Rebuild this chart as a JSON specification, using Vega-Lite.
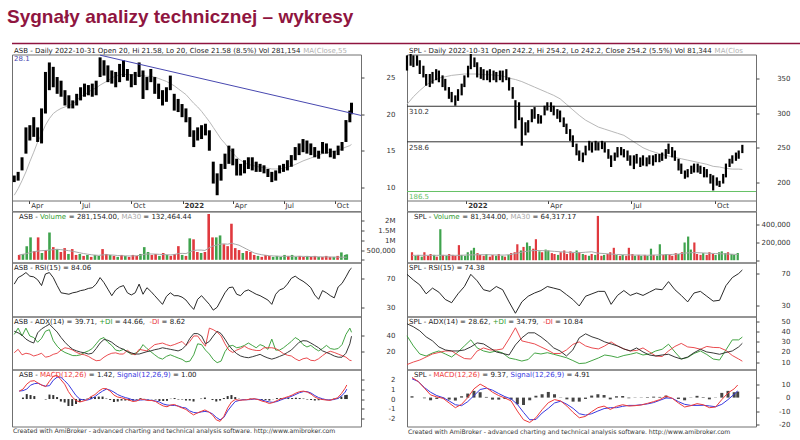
{
  "$schema": "https://vega.github.io/schema/vega-lite/v6.json",
  "padding": {"left": 7, "top": 0, "right": 0, "bottom": 0},
  "background": "white",
  "bounds": "flush",
  "spacing": 10.5,
  "config": {
    "font": "DejaVu Sans",
    "view": {"stroke": "#707070", "strokeWidth": 1},
    "axis": {"labelFont": "DejaVu Sans", "labelFontSize": 7, "labelColor": "#333", "domain": false, "grid": false, "ticks": true, "tickSize": 3, "tickColor": "#444", "title": null, "labelOverlap": false, "labelFlush": false, "tickCount": 30},
    "axisY": {"labelOverlap": false, "tickCount": 30},
    "axisX": {"labelOverlap": false},
    "text": {"font": "DejaVu Sans", "fontSize": 7},
    "title": {"font": "DejaVu Sans"}
  },
  "datasets": {
    "asb": [
      {"d":"2021-03-05","h":11.6,"l":10.7,"ma":8.9,"v":250000,"u":"d","vm":250000,"r":62,"a":46,"p":42,"m":18.7,"c":0.8,"s":0.8,"hi":0},
      {"d":"2021-03-12","h":12.1,"l":10.9,"ma":9.8,"v":300000,"u":"u","vm":280000,"r":71,"a":44,"p":50,"m":23,"c":1.0,"s":0.85,"hi":0.15},
      {"d":"2021-03-19","h":14.1,"l":12.3,"ma":10.9,"v":700000,"u":"u","vm":320000,"r":74,"a":41,"p":40,"m":16,"c":1.5,"s":1.0,"hi":0.5},
      {"d":"2021-03-26","h":18.2,"l":14.6,"ma":12.1,"v":1150000,"u":"u","vm":380000,"r":78,"a":36,"p":50,"m":18,"c":1.8,"s":1.4,"hi":0.4},
      {"d":"2021-04-02","h":18.5,"l":16.4,"ma":13.5,"v":450000,"u":"d","vm":420000,"r":73,"a":33,"p":40,"m":17,"c":1.85,"s":1.55,"hi":0.3},
      {"d":"2021-04-09","h":19.6,"l":16.9,"ma":14.8,"v":1150000,"u":"d","vm":450000,"r":72,"a":31,"p":38,"m":14.5,"c":1.6,"s":1.6,"hi":0},
      {"d":"2021-04-16","h":18.2,"l":16.2,"ma":16.2,"v":350000,"u":"u","vm":470000,"r":68,"a":44,"p":32,"m":16,"c":1.4,"s":1.4,"hi":0},
      {"d":"2021-04-23","h":20.8,"l":16.0,"ma":17.3,"v":500000,"u":"d","vm":480000,"r":60,"a":49,"p":37,"m":18,"c":1.25,"s":1.3,"hi":-0.05},
      {"d":"2021-04-30","h":25.8,"l":20.1,"ma":18.5,"v":1400000,"u":"u","vm":500000,"r":76,"a":52,"p":46,"m":13,"c":1.8,"s":1.35,"hi":0.45},
      {"d":"2021-05-07","h":27.1,"l":23.3,"ma":19.4,"v":650000,"u":"d","vm":520000,"r":78,"a":55,"p":48,"m":14,"c":2.3,"s":1.9,"hi":0.4},
      {"d":"2021-05-14","h":26.5,"l":23.7,"ma":20.1,"v":550000,"u":"u","vm":540000,"r":71,"a":50,"p":34,"m":16.6,"c":2.4,"s":2.2,"hi":0.2},
      {"d":"2021-05-21","h":25.1,"l":22.8,"ma":20.5,"v":400000,"u":"d","vm":520000,"r":60,"a":45,"p":27,"m":18,"c":1.95,"s":2.2,"hi":-0.25},
      {"d":"2021-05-28","h":24.6,"l":22.4,"ma":20.8,"v":600000,"u":"d","vm":500000,"r":50,"a":38,"p":22,"m":22,"c":1.5,"s":1.85,"hi":-0.35},
      {"d":"2021-06-04","h":23.3,"l":21.2,"ma":21.0,"v":300000,"u":"u","vm":470000,"r":49,"a":32,"p":19,"m":25,"c":0.75,"s":1.45,"hi":-0.7},
      {"d":"2021-06-11","h":22.6,"l":20.8,"ma":21.2,"v":550000,"u":"d","vm":440000,"r":48,"a":27,"p":17,"m":24,"c":0.2,"s":0.9,"hi":-0.7},
      {"d":"2021-06-18","h":21.9,"l":20.8,"ma":21.4,"v":250000,"u":"d","vm":400000,"r":50,"a":23,"p":15,"m":22,"c":-0.15,"s":0.35,"hi":-0.5},
      {"d":"2021-06-25","h":22.8,"l":21.2,"ma":21.9,"v":300000,"u":"u","vm":360000,"r":51,"a":21,"p":15,"m":19,"c":-0.3,"s":0.0,"hi":-0.3},
      {"d":"2021-07-02","h":23.7,"l":21.9,"ma":22.4,"v":200000,"u":"d","vm":320000,"r":53,"a":19.5,"p":16,"m":17,"c":-0.2,"s":-0.1,"hi":-0.1},
      {"d":"2021-07-09","h":24.2,"l":22.4,"ma":22.7,"v":250000,"u":"u","vm":290000,"r":54,"a":18.5,"p":19,"m":16,"c":-0.05,"s":-0.1,"hi":0.05},
      {"d":"2021-07-16","h":24.0,"l":22.6,"ma":23.0,"v":150000,"u":"d","vm":260000,"r":56,"a":17,"p":21,"m":14,"c":0.25,"s":0.02,"hi":0.23},
      {"d":"2021-07-23","h":24.2,"l":22.4,"ma":23.4,"v":250000,"u":"u","vm":240000,"r":57,"a":18,"p":24,"m":11,"c":0.45,"s":0.25,"hi":0.2},
      {"d":"2021-07-30","h":24.6,"l":22.6,"ma":23.6,"v":200000,"u":"u","vm":230000,"r":62,"a":24,"p":30,"m":8.5,"c":0.8,"s":0.55,"hi":0.25},
      {"d":"2021-08-06","h":27.8,"l":25.1,"ma":24.0,"v":550000,"u":"d","vm":250000,"r":71,"a":31,"p":36,"m":9,"c":1.05,"s":0.8,"hi":0.25},
      {"d":"2021-08-13","h":27.4,"l":25.3,"ma":24.3,"v":300000,"u":"d","vm":260000,"r":64,"a":35.5,"p":38,"m":13,"c":1.05,"s":1.0,"hi":0.05},
      {"d":"2021-08-20","h":26.7,"l":24.4,"ma":24.6,"v":250000,"u":"u","vm":250000,"r":55,"a":34.5,"p":32,"m":16,"c":0.8,"s":0.9,"hi":-0.1},
      {"d":"2021-08-27","h":26.0,"l":24.2,"ma":25.0,"v":200000,"u":"d","vm":240000,"r":46,"a":32,"p":28,"m":18,"c":0.4,"s":0.7,"hi":-0.3},
      {"d":"2021-09-03","h":25.8,"l":23.7,"ma":25.2,"v":150000,"u":"u","vm":220000,"r":54,"a":28,"p":22,"m":18.5,"c":0.2,"s":0.45,"hi":-0.25},
      {"d":"2021-09-10","h":26.9,"l":24.4,"ma":25.4,"v":250000,"u":"d","vm":210000,"r":58,"a":25,"p":21,"m":17,"c":0.13,"s":0.28,"hi":-0.15},
      {"d":"2021-09-17","h":27.4,"l":25.1,"ma":25.45,"v":200000,"u":"u","vm":200000,"r":60,"a":23,"p":23,"m":17,"c":0.0,"s":0.15,"hi":-0.15},
      {"d":"2021-09-24","h":26.2,"l":24.6,"ma":25.45,"v":150000,"u":"d","vm":200000,"r":50,"a":20,"p":20,"m":22,"c":-0.1,"s":0.05,"hi":-0.15},
      {"d":"2021-10-01","h":25.5,"l":23.7,"ma":25.4,"v":250000,"u":"d","vm":200000,"r":47,"a":18.5,"p":16.6,"m":17.5,"c":-0.25,"s":-0.1,"hi":-0.15},
      {"d":"2021-10-08","h":25.8,"l":24.0,"ma":25.4,"v":200000,"u":"d","vm":210000,"r":50,"a":17,"p":18,"m":16,"c":-0.2,"s":-0.13,"hi":-0.07},
      {"d":"2021-10-15","h":27.1,"l":25.1,"ma":25.3,"v":300000,"u":"u","vm":230000,"r":62,"a":17,"p":21,"m":23,"c":0.0,"s":-0.1,"hi":0.1},
      {"d":"2021-10-22","h":26.0,"l":22.1,"ma":25.3,"v":650000,"u":"u","vm":280000,"r":48,"a":18.5,"p":29,"m":22,"c":-0.05,"s":-0.07,"hi":0.02},
      {"d":"2021-10-29","h":25.1,"l":23.3,"ma":25.2,"v":400000,"u":"u","vm":300000,"r":57,"a":20,"p":24,"m":21,"c":-0.15,"s":-0.1,"hi":-0.05},
      {"d":"2021-11-05","h":26.2,"l":24.4,"ma":25.2,"v":250000,"u":"d","vm":300000,"r":52,"a":21,"p":20,"m":25,"c":-0.15,"s":-0.13,"hi":-0.02},
      {"d":"2021-11-12","h":25.1,"l":22.8,"ma":25.1,"v":300000,"u":"d","vm":290000,"r":46,"a":22.5,"p":16,"m":29,"c":-0.25,"s":-0.2,"hi":-0.05},
      {"d":"2021-11-19","h":24.2,"l":22.1,"ma":24.9,"v":200000,"u":"u","vm":280000,"r":40,"a":23.5,"p":12.3,"m":30,"c":-0.5,"s":-0.3,"hi":-0.2},
      {"d":"2021-11-26","h":23.3,"l":21.2,"ma":24.7,"v":350000,"u":"d","vm":270000,"r":34,"a":25,"p":10.5,"m":31,"c":-0.7,"s":-0.5,"hi":-0.2},
      {"d":"2021-12-03","h":23.7,"l":21.7,"ma":24.5,"v":250000,"u":"u","vm":260000,"r":45,"a":24,"p":14,"m":29,"c":-0.78,"s":-0.6,"hi":-0.18},
      {"d":"2021-12-10","h":25.3,"l":23.3,"ma":24.2,"v":200000,"u":"d","vm":250000,"r":50,"a":23,"p":16,"m":27.5,"c":-0.6,"s":-0.63,"hi":0.03},
      {"d":"2021-12-17","h":22.8,"l":20.5,"ma":23.9,"v":300000,"u":"d","vm":270000,"r":46,"a":22,"p":14,"m":29,"c":-0.55,"s":-0.65,"hi":0.1},
      {"d":"2021-12-24","h":22.1,"l":20.3,"ma":23.5,"v":700000,"u":"d","vm":320000,"r":46,"a":21,"p":12,"m":31,"c":-0.75,"s":-0.7,"hi":-0.05},
      {"d":"2021-12-31","h":21.4,"l":19.6,"ma":23.1,"v":250000,"u":"u","vm":330000,"r":44,"a":23,"p":10.2,"m":33,"c":-0.9,"s":-0.85,"hi":-0.05},
      {"d":"2022-01-07","h":20.8,"l":18.9,"ma":22.7,"v":200000,"u":"d","vm":320000,"r":40,"a":28,"p":7,"m":28,"c":-1.05,"s":-0.9,"hi":-0.15},
      {"d":"2022-01-14","h":19.6,"l":16.9,"ma":22.1,"v":1100000,"u":"u","vm":400000,"r":33,"a":37,"p":8,"m":33,"c":-1.35,"s":-1.2,"hi":-0.15},
      {"d":"2022-01-21","h":17.8,"l":15.5,"ma":21.5,"v":1050000,"u":"d","vm":480000,"r":27,"a":43,"p":16,"m":40,"c":-1.6,"s":-1.35,"hi":-0.25},
      {"d":"2022-01-28","h":18.2,"l":16.4,"ma":21.0,"v":400000,"u":"d","vm":500000,"r":41,"a":43,"p":30,"m":40,"c":-1.4,"s":-1.4,"hi":0},
      {"d":"2022-02-04","h":18.5,"l":16.6,"ma":20.4,"v":350000,"u":"u","vm":500000,"r":46,"a":40,"p":29,"m":33,"c":-1.25,"s":-1.3,"hi":0.05},
      {"d":"2022-02-11","h":18.7,"l":17.1,"ma":19.7,"v":400000,"u":"d","vm":480000,"r":40,"a":30,"p":22,"m":27,"c":-1.1,"s":-1.25,"hi":0.15},
      {"d":"2022-02-18","h":17.8,"l":15.0,"ma":19.0,"v":2350000,"u":"d","vm":600000,"r":34,"a":33,"p":17,"m":50,"c":-1.3,"s":-1.3,"hi":0},
      {"d":"2022-02-25","h":13.5,"l":10.5,"ma":18.2,"v":1150000,"u":"d","vm":700000,"r":26,"a":40,"p":10,"m":48,"c":-1.6,"s":-1.5,"hi":-0.1},
      {"d":"2022-03-04","h":11.9,"l":8.9,"ma":17.4,"v":1150000,"u":"u","vm":750000,"r":30,"a":46,"p":6,"m":45,"c":-2.1,"s":-1.85,"hi":-0.25},
      {"d":"2022-03-11","h":13.2,"l":10.9,"ma":16.6,"v":1250000,"u":"u","vm":800000,"r":40,"a":43,"p":8,"m":40,"c":-2.25,"s":-2.1,"hi":-0.15},
      {"d":"2022-03-18","h":14.6,"l":12.5,"ma":16.0,"v":800000,"u":"d","vm":820000,"r":50,"a":36,"p":20,"m":30,"c":-1.75,"s":-1.85,"hi":0.1},
      {"d":"2022-03-25","h":15.7,"l":13.2,"ma":15.3,"v":700000,"u":"d","vm":800000,"r":57,"a":28,"p":27,"m":22,"c":-0.9,"s":-1.2,"hi":0.3},
      {"d":"2022-04-01","h":15.3,"l":13.0,"ma":14.7,"v":1850000,"u":"d","vm":850000,"r":58,"a":22,"p":28,"m":19,"c":-0.3,"s":-0.7,"hi":0.4},
      {"d":"2022-04-08","h":13.9,"l":11.6,"ma":14.1,"v":600000,"u":"d","vm":800000,"r":48,"a":17.5,"p":25,"m":22,"c":-0.05,"s":-0.25,"hi":0.2},
      {"d":"2022-04-15","h":13.2,"l":11.6,"ma":13.7,"v":500000,"u":"d","vm":750000,"r":46,"a":14.5,"p":26,"m":24,"c":-0.12,"s":-0.15,"hi":0.03},
      {"d":"2022-04-22","h":13.7,"l":11.9,"ma":13.35,"v":350000,"u":"u","vm":650000,"r":52,"a":13,"p":28,"m":27,"c":-0.1,"s":-0.07,"hi":-0.03},
      {"d":"2022-04-29","h":14.1,"l":12.5,"ma":13.1,"v":450000,"u":"d","vm":550000,"r":54,"a":12.3,"p":31,"m":24,"c":-0.07,"s":-0.07,"hi":0},
      {"d":"2022-05-06","h":14.1,"l":12.3,"ma":13.0,"v":400000,"u":"d","vm":450000,"r":51,"a":13.5,"p":28,"m":22.5,"c":0.0,"s":-0.05,"hi":0.05},
      {"d":"2022-05-13","h":13.5,"l":12.1,"ma":12.85,"v":250000,"u":"d","vm":350000,"r":48,"a":15,"p":25,"m":21.5,"c":0.03,"s":0.0,"hi":0.03},
      {"d":"2022-05-20","h":13.2,"l":12.1,"ma":12.75,"v":200000,"u":"u","vm":300000,"r":46,"a":16.6,"p":29,"m":21.5,"c":-0.05,"s":-0.03,"hi":-0.02},
      {"d":"2022-05-27","h":13.0,"l":11.9,"ma":12.7,"v":150000,"u":"d","vm":260000,"r":43,"a":14,"p":27,"m":25,"c":-0.2,"s":-0.1,"hi":-0.1},
      {"d":"2022-06-03","h":12.5,"l":11.4,"ma":12.6,"v":250000,"u":"d","vm":230000,"r":40,"a":12,"p":23,"m":25,"c":-0.3,"s":-0.2,"hi":-0.1},
      {"d":"2022-06-10","h":12.1,"l":10.7,"ma":12.5,"v":200000,"u":"d","vm":210000,"r":34,"a":10.5,"p":36,"m":25,"c":-0.45,"s":-0.3,"hi":-0.15},
      {"d":"2022-06-17","h":12.3,"l":10.9,"ma":12.5,"v":150000,"u":"u","vm":200000,"r":48,"a":12,"p":22,"m":24,"c":-0.35,"s":-0.33,"hi":-0.02},
      {"d":"2022-06-24","h":13.0,"l":11.9,"ma":12.5,"v":200000,"u":"u","vm":190000,"r":54,"a":14,"p":22,"m":21,"c":-0.15,"s":-0.25,"hi":0.1},
      {"d":"2022-07-01","h":13.2,"l":12.1,"ma":12.6,"v":150000,"u":"u","vm":180000,"r":56,"a":16,"p":25,"m":17.5,"c":0.0,"s":-0.1,"hi":0.1},
      {"d":"2022-07-08","h":13.7,"l":12.3,"ma":12.75,"v":250000,"u":"u","vm":180000,"r":62,"a":19,"p":29,"m":15.5,"c":0.13,"s":0.05,"hi":0.08},
      {"d":"2022-07-15","h":14.4,"l":12.8,"ma":12.9,"v":200000,"u":"d","vm":180000,"r":70,"a":22,"p":33,"m":14.5,"c":0.25,"s":0.15,"hi":0.1},
      {"d":"2022-07-22","h":15.5,"l":13.7,"ma":13.1,"v":250000,"u":"u","vm":180000,"r":73,"a":27,"p":38,"m":11,"c":0.4,"s":0.3,"hi":0.1},
      {"d":"2022-07-29","h":16.0,"l":14.4,"ma":13.35,"v":150000,"u":"u","vm":180000,"r":69,"a":32,"p":35,"m":8.5,"c":0.6,"s":0.47,"hi":0.13},
      {"d":"2022-08-05","h":16.6,"l":14.8,"ma":13.6,"v":200000,"u":"d","vm":180000,"r":66,"a":34,"p":29,"m":11,"c":0.75,"s":0.65,"hi":0.1},
      {"d":"2022-08-12","h":16.4,"l":14.6,"ma":13.8,"v":150000,"u":"d","vm":175000,"r":62,"a":33.6,"p":26,"m":12,"c":0.8,"s":0.75,"hi":0.05},
      {"d":"2022-08-19","h":16.0,"l":14.4,"ma":14.0,"v":200000,"u":"u","vm":170000,"r":57,"a":31,"p":28,"m":9,"c":0.7,"s":0.75,"hi":-0.05},
      {"d":"2022-08-26","h":15.5,"l":14.1,"ma":14.2,"v":150000,"u":"d","vm":165000,"r":47,"a":28,"p":24,"m":8.5,"c":0.5,"s":0.6,"hi":-0.1},
      {"d":"2022-09-02","h":15.0,"l":13.9,"ma":14.4,"v":200000,"u":"d","vm":160000,"r":41,"a":25,"p":21,"m":11,"c":0.2,"s":0.35,"hi":-0.15},
      {"d":"2022-09-09","h":16.2,"l":14.6,"ma":14.6,"v":150000,"u":"u","vm":155000,"r":53,"a":21,"p":24,"m":15,"c":0.03,"s":0.15,"hi":-0.12},
      {"d":"2022-09-16","h":16.0,"l":14.6,"ma":14.7,"v":150000,"u":"d","vm":150000,"r":50,"a":19,"p":28,"m":18.5,"c":-0.05,"s":0.03,"hi":-0.08},
      {"d":"2022-09-23","h":15.3,"l":14.1,"ma":14.8,"v":200000,"u":"d","vm":150000,"r":46,"a":17,"p":24,"m":20.5,"c":-0.1,"s":-0.07,"hi":-0.03},
      {"d":"2022-09-30","h":15.0,"l":13.9,"ma":14.9,"v":150000,"u":"d","vm":145000,"r":43,"a":14.5,"p":23,"m":19,"c":-0.13,"s":-0.1,"hi":-0.03},
      {"d":"2022-10-07","h":15.7,"l":14.4,"ma":15.0,"v":150000,"u":"u","vm":140000,"r":58,"a":13,"p":24,"m":17,"c":0.0,"s":-0.05,"hi":0.05},
      {"d":"2022-10-14","h":16.2,"l":15.0,"ma":15.3,"v":200000,"u":"d","vm":135000,"r":63,"a":13,"p":29,"m":15,"c":0.13,"s":0.05,"hi":0.08},
      {"d":"2022-10-21","h":19.2,"l":16.2,"ma":15.5,"v":380000,"u":"u","vm":132000,"r":72,"a":18,"p":42,"m":13,"c":0.55,"s":0.3,"hi":0.25},
      {"d":"2022-10-28","h":20.5,"l":18.9,"ma":15.7,"v":250000,"u":"u","vm":132000,"r":82,"a":30,"p":50,"m":9,"c":1.1,"s":0.7,"hi":0.4},
      {"d":"2022-10-31","h":21.58,"l":20.0,"ma":15.87,"v":281154,"u":"u","vm":132464,"r":84.06,"a":39.71,"p":44.66,"m":8.62,"c":1.42,"s":1.0,"hi":0.42}
    ],
    "trendL": [
      {"d":"2021-08-06","t":28.1},
      {"d":"2022-11-17","t":19.84}
    ],
    "splp": [
      {"d":"2021-10-28","h":384,"l":362,"v":90000,"u":"d"},
      {"d":"2021-11-01","h":386,"l":369,"v":50000,"u":"u"},
      {"d":"2021-11-04","h":384,"l":367,"v":60000,"u":"d"},
      {"d":"2021-11-08","h":384,"l":369,"v":40000,"u":"u"},
      {"d":"2021-11-11","h":377,"l":357,"v":90000,"u":"d"},
      {"d":"2021-11-15","h":369,"l":352,"v":50000,"u":"d"},
      {"d":"2021-11-18","h":357,"l":340,"v":70000,"u":"d"},
      {"d":"2021-11-22","h":357,"l":338,"v":60000,"u":"u"},
      {"d":"2021-11-25","h":360,"l":343,"v":40000,"u":"d"},
      {"d":"2021-11-29","h":364,"l":348,"v":350000,"u":"u"},
      {"d":"2021-12-02","h":362,"l":345,"v":60000,"u":"d"},
      {"d":"2021-12-06","h":355,"l":338,"v":50000,"u":"u"},
      {"d":"2021-12-09","h":350,"l":333,"v":70000,"u":"d"},
      {"d":"2021-12-13","h":338,"l":321,"v":60000,"u":"d"},
      {"d":"2021-12-16","h":331,"l":316,"v":50000,"u":"d"},
      {"d":"2021-12-20","h":326,"l":311,"v":170000,"u":"d"},
      {"d":"2021-12-23","h":335,"l":318,"v":60000,"u":"u"},
      {"d":"2021-12-27","h":343,"l":326,"v":50000,"u":"u"},
      {"d":"2021-12-30","h":355,"l":338,"v":90000,"u":"u"},
      {"d":"2022-01-03","h":369,"l":352,"v":110000,"u":"u"},
      {"d":"2022-01-06","h":386,"l":364,"v":140000,"u":"u"},
      {"d":"2022-01-10","h":381,"l":367,"v":80000,"u":"d"},
      {"d":"2022-01-13","h":374,"l":352,"v":60000,"u":"d"},
      {"d":"2022-01-17","h":367,"l":350,"v":50000,"u":"d"},
      {"d":"2022-01-20","h":364,"l":348,"v":70000,"u":"u"},
      {"d":"2022-01-24","h":362,"l":348,"v":40000,"u":"d"},
      {"d":"2022-01-27","h":364,"l":345,"v":60000,"u":"d"},
      {"d":"2022-01-31","h":362,"l":348,"v":50000,"u":"u"},
      {"d":"2022-02-03","h":360,"l":345,"v":70000,"u":"d"},
      {"d":"2022-02-07","h":362,"l":348,"v":50000,"u":"u"},
      {"d":"2022-02-10","h":362,"l":345,"v":40000,"u":"d"},
      {"d":"2022-02-14","h":364,"l":348,"v":60000,"u":"u"},
      {"d":"2022-02-17","h":352,"l":333,"v":80000,"u":"d"},
      {"d":"2022-02-21","h":338,"l":321,"v":90000,"u":"d"},
      {"d":"2022-02-24","h":319,"l":278,"v":180000,"u":"d"},
      {"d":"2022-02-28","h":316,"l":290,"v":110000,"u":"u"},
      {"d":"2022-03-03","h":294,"l":253,"v":150000,"u":"d"},
      {"d":"2022-03-07","h":287,"l":268,"v":200000,"u":"u"},
      {"d":"2022-03-10","h":290,"l":272,"v":160000,"u":"u"},
      {"d":"2022-03-14","h":306,"l":287,"v":130000,"u":"d"},
      {"d":"2022-03-17","h":309,"l":292,"v":237000,"u":"d"},
      {"d":"2022-03-21","h":299,"l":285,"v":100000,"u":"u"},
      {"d":"2022-03-24","h":297,"l":285,"v":90000,"u":"d"},
      {"d":"2022-03-28","h":311,"l":297,"v":120000,"u":"u"},
      {"d":"2022-03-31","h":316,"l":304,"v":110000,"u":"u"},
      {"d":"2022-04-04","h":316,"l":302,"v":80000,"u":"d"},
      {"d":"2022-04-07","h":311,"l":297,"v":70000,"u":"d"},
      {"d":"2022-04-11","h":306,"l":292,"v":60000,"u":"u"},
      {"d":"2022-04-14","h":304,"l":287,"v":90000,"u":"d"},
      {"d":"2022-04-18","h":294,"l":280,"v":110000,"u":"d"},
      {"d":"2022-04-21","h":285,"l":270,"v":70000,"u":"d"},
      {"d":"2022-04-25","h":277,"l":260,"v":100000,"u":"d"},
      {"d":"2022-04-28","h":268,"l":251,"v":80000,"u":"d"},
      {"d":"2022-05-02","h":256,"l":239,"v":110000,"u":"u"},
      {"d":"2022-05-05","h":246,"l":231,"v":90000,"u":"d"},
      {"d":"2022-05-09","h":243,"l":229,"v":70000,"u":"u"},
      {"d":"2022-05-12","h":253,"l":239,"v":60000,"u":"d"},
      {"d":"2022-05-16","h":260,"l":246,"v":50000,"u":"u"},
      {"d":"2022-05-19","h":258,"l":243,"v":70000,"u":"d"},
      {"d":"2022-05-23","h":260,"l":246,"v":60000,"u":"u"},
      {"d":"2022-05-26","h":258,"l":246,"v":500000,"u":"d"},
      {"d":"2022-05-30","h":260,"l":248,"v":50000,"u":"d"},
      {"d":"2022-06-02","h":258,"l":243,"v":60000,"u":"u"},
      {"d":"2022-06-06","h":248,"l":234,"v":70000,"u":"d"},
      {"d":"2022-06-09","h":239,"l":222,"v":90000,"u":"d"},
      {"d":"2022-06-13","h":243,"l":231,"v":140000,"u":"d"},
      {"d":"2022-06-16","h":251,"l":236,"v":60000,"u":"u"},
      {"d":"2022-06-20","h":251,"l":239,"v":50000,"u":"d"},
      {"d":"2022-06-23","h":248,"l":236,"v":60000,"u":"u"},
      {"d":"2022-06-27","h":246,"l":231,"v":50000,"u":"d"},
      {"d":"2022-06-30","h":239,"l":224,"v":140000,"u":"d"},
      {"d":"2022-07-04","h":239,"l":219,"v":70000,"u":"d"},
      {"d":"2022-07-07","h":241,"l":227,"v":50000,"u":"u"},
      {"d":"2022-07-11","h":236,"l":222,"v":60000,"u":"d"},
      {"d":"2022-07-14","h":239,"l":224,"v":50000,"u":"u"},
      {"d":"2022-07-18","h":236,"l":223,"v":60000,"u":"d"},
      {"d":"2022-07-21","h":239,"l":226,"v":50000,"u":"u"},
      {"d":"2022-07-25","h":239,"l":224,"v":130000,"u":"u"},
      {"d":"2022-07-28","h":241,"l":229,"v":60000,"u":"d"},
      {"d":"2022-08-01","h":241,"l":229,"v":50000,"u":"u"},
      {"d":"2022-08-04","h":243,"l":231,"v":180000,"u":"u"},
      {"d":"2022-08-08","h":248,"l":234,"v":60000,"u":"d"},
      {"d":"2022-08-11","h":256,"l":241,"v":70000,"u":"u"},
      {"d":"2022-08-15","h":251,"l":236,"v":60000,"u":"d"},
      {"d":"2022-08-18","h":246,"l":231,"v":50000,"u":"d"},
      {"d":"2022-08-22","h":234,"l":217,"v":80000,"u":"d"},
      {"d":"2022-08-25","h":227,"l":212,"v":70000,"u":"u"},
      {"d":"2022-08-29","h":217,"l":205,"v":90000,"u":"d"},
      {"d":"2022-09-01","h":219,"l":207,"v":200000,"u":"u"},
      {"d":"2022-09-05","h":224,"l":212,"v":267000,"u":"u"},
      {"d":"2022-09-08","h":227,"l":214,"v":120000,"u":"u"},
      {"d":"2022-09-12","h":227,"l":214,"v":200000,"u":"d"},
      {"d":"2022-09-15","h":224,"l":212,"v":70000,"u":"d"},
      {"d":"2022-09-19","h":222,"l":207,"v":60000,"u":"d"},
      {"d":"2022-09-22","h":219,"l":207,"v":80000,"u":"u"},
      {"d":"2022-09-26","h":212,"l":198,"v":60000,"u":"d"},
      {"d":"2022-09-29","h":210,"l":188,"v":90000,"u":"d"},
      {"d":"2022-10-03","h":207,"l":195,"v":70000,"u":"d"},
      {"d":"2022-10-06","h":202,"l":193,"v":60000,"u":"u"},
      {"d":"2022-10-10","h":212,"l":198,"v":90000,"u":"u"},
      {"d":"2022-10-13","h":227,"l":207,"v":100000,"u":"u"},
      {"d":"2022-10-17","h":234,"l":222,"v":80000,"u":"u"},
      {"d":"2022-10-20","h":239,"l":227,"v":90000,"u":"d"},
      {"d":"2022-10-24","h":243,"l":231,"v":70000,"u":"u"},
      {"d":"2022-10-27","h":246,"l":234,"v":60000,"u":"u"},
      {"d":"2022-10-31","h":254.2,"l":242.2,"v":81344,"u":"u"}
    ],
    "spli": [
      {"d":"2021-10-28","ma":313,"vm":55000,"r":69,"a":48,"p":36,"m":7.5,"c":15,"s":14,"hi":1},
      {"d":"2021-11-04","ma":324,"vm":55000,"r":62,"a":45,"p":26,"m":10,"c":12,"s":12,"hi":0},
      {"d":"2021-11-11","ma":333,"vm":55000,"r":56,"a":41,"p":18,"m":12,"c":7,"s":7.5,"hi":-0.5},
      {"d":"2021-11-18","ma":341,"vm":55000,"r":45,"a":35,"p":16,"m":15,"c":2,"s":4,"hi":-2},
      {"d":"2021-11-25","ma":347,"vm":55000,"r":52,"a":31,"p":19,"m":18,"c":0.5,"s":1.5,"hi":-1},
      {"d":"2021-12-02","ma":351,"vm":55000,"r":47,"a":25,"p":21,"m":19.5,"c":-0.5,"s":0,"hi":-0.5},
      {"d":"2021-12-09","ma":353,"vm":55000,"r":38,"a":22,"p":18,"m":21,"c":-4,"s":-2.5,"hi":-1.5},
      {"d":"2021-12-16","ma":355,"vm":55000,"r":34,"a":21,"p":15,"m":21,"c":-7.5,"s":-5.3,"hi":-2.2},
      {"d":"2021-12-23","ma":356,"vm":55000,"r":45,"a":21,"p":20,"m":17,"c":-5,"s":-6,"hi":1},
      {"d":"2021-12-30","ma":357,"vm":60000,"r":54,"a":22,"p":26,"m":13.5,"c":0,"s":-3,"hi":3},
      {"d":"2022-01-06","ma":357,"vm":60000,"r":69,"a":25,"p":32,"m":13,"c":6.5,"s":1.5,"hi":5},
      {"d":"2022-01-13","ma":357,"vm":62000,"r":61,"a":29,"p":24,"m":21,"c":10,"s":6,"hi":4},
      {"d":"2022-01-20","ma":356,"vm":62000,"r":50,"a":28,"p":21,"m":24,"c":7.5,"s":7,"hi":0.5},
      {"d":"2022-01-27","ma":356,"vm":60000,"r":48,"a":24,"p":19.5,"m":22,"c":4,"s":5.5,"hi":-1.5},
      {"d":"2022-02-03","ma":355,"vm":58000,"r":54,"a":20,"p":21,"m":22,"c":1.5,"s":3,"hi":-1.5},
      {"d":"2022-02-10","ma":354,"vm":58000,"r":50,"a":18.5,"p":19,"m":23,"c":-0.3,"s":0.7,"hi":-1},
      {"d":"2022-02-17","ma":351,"vm":65000,"r":35,"a":17,"p":14,"m":33,"c":-2.5,"s":-1,"hi":-1.5},
      {"d":"2022-02-24","ma":349,"vm":80000,"r":21,"a":27,"p":12.7,"m":44,"c":-10,"s":-5,"hi":-5},
      {"d":"2022-03-03","ma":346,"vm":95000,"r":35,"a":34,"p":11,"m":31,"c":-16.5,"s":-11,"hi":-5.5},
      {"d":"2022-03-10","ma":342,"vm":105000,"r":42,"a":39,"p":12.5,"m":29.5,"c":-18.5,"s":-16.5,"hi":-2},
      {"d":"2022-03-17","ma":338,"vm":110000,"r":46,"a":39,"p":19,"m":28,"c":-15,"s":-16.3,"hi":1.3},
      {"d":"2022-03-24","ma":334,"vm":108000,"r":49,"a":35,"p":18,"m":25,"c":-9,"s":-11.5,"hi":2.5},
      {"d":"2022-03-31","ma":330,"vm":105000,"r":54,"a":30,"p":19.3,"m":22,"c":-3.8,"s":-8,"hi":4.2},
      {"d":"2022-04-07","ma":326,"vm":100000,"r":52,"a":24,"p":17.7,"m":18.5,"c":-1.5,"s":-4,"hi":2.5},
      {"d":"2022-04-14","ma":321,"vm":95000,"r":50,"a":21,"p":16,"m":18.5,"c":-2.5,"s":-2.7,"hi":0.2},
      {"d":"2022-04-21","ma":313,"vm":90000,"r":44,"a":16,"p":14.3,"m":22,"c":-6.3,"s":-5,"hi":-1.3},
      {"d":"2022-04-28","ma":305,"vm":88000,"r":38,"a":22,"p":11.5,"m":27.5,"c":-11,"s":-8,"hi":-3},
      {"d":"2022-05-05","ma":297,"vm":85000,"r":30,"a":34,"p":8.5,"m":30,"c":-15,"s":-12,"hi":-3},
      {"d":"2022-05-12","ma":290,"vm":90000,"r":42,"a":38,"p":9,"m":26,"c":-14,"s":-13,"hi":-1},
      {"d":"2022-05-19","ma":285,"vm":95000,"r":45,"a":35,"p":11.5,"m":24,"c":-10.5,"s":-12,"hi":1.5},
      {"d":"2022-05-26","ma":280,"vm":80000,"r":48,"a":33,"p":14,"m":23,"c":-7.5,"s":-10,"hi":2.5},
      {"d":"2022-06-02","ma":277,"vm":75000,"r":48,"a":30,"p":17,"m":26,"c":-6.3,"s":-8.2,"hi":1.9},
      {"d":"2022-06-09","ma":274,"vm":70000,"r":32,"a":28,"p":16,"m":30,"c":-8.8,"s":-7.5,"hi":-1.3},
      {"d":"2022-06-16","ma":271,"vm":65000,"r":43,"a":26,"p":14.5,"m":26,"c":-6.5,"s":-7.5,"hi":1},
      {"d":"2022-06-23","ma":268,"vm":62000,"r":49,"a":23,"p":16.5,"m":23,"c":-5.3,"s":-6.5,"hi":1.2},
      {"d":"2022-06-30","ma":262,"vm":60000,"r":43,"a":21,"p":17.7,"m":21,"c":-6.3,"s":-5.8,"hi":-0.5},
      {"d":"2022-07-07","ma":256,"vm":58000,"r":46,"a":24,"p":19.3,"m":21.5,"c":-6,"s":-5.8,"hi":-0.2},
      {"d":"2022-07-14","ma":250,"vm":58000,"r":43,"a":20,"p":17,"m":24,"c":-5.5,"s":-5.3,"hi":-0.2},
      {"d":"2022-07-21","ma":246,"vm":56000,"r":47,"a":17,"p":18,"m":20,"c":-4.3,"s":-4.7,"hi":0.4},
      {"d":"2022-07-28","ma":243,"vm":58000,"r":51,"a":16,"p":21,"m":16,"c":-3,"s":-3.7,"hi":0.7},
      {"d":"2022-08-04","ma":240,"vm":60000,"r":50,"a":17,"p":22.7,"m":15.5,"c":-1.5,"s":-2,"hi":0.5},
      {"d":"2022-08-11","ma":238,"vm":62000,"r":60,"a":17.7,"p":27.7,"m":21,"c":1.2,"s":-0.3,"hi":1.5},
      {"d":"2022-08-18","ma":236,"vm":65000,"r":50,"a":15,"p":20,"m":25.5,"c":-0.5,"s":-0.5,"hi":0},
      {"d":"2022-08-25","ma":234,"vm":70000,"r":43,"a":13,"p":13,"m":28.5,"c":-4,"s":-3,"hi":-1},
      {"d":"2022-09-01","ma":232,"vm":80000,"r":35,"a":15,"p":14.5,"m":25,"c":-7,"s":-5,"hi":-2},
      {"d":"2022-09-08","ma":230,"vm":85000,"r":46,"a":19.3,"p":18.5,"m":24.3,"c":-6,"s":-5.8,"hi":-0.2},
      {"d":"2022-09-15","ma":228,"vm":85000,"r":48,"a":22.7,"p":21,"m":22.7,"c":-4.5,"s":-5.8,"hi":1.3},
      {"d":"2022-09-22","ma":226,"vm":82000,"r":42,"a":20,"p":17.5,"m":25.5,"c":-5.3,"s":-5.7,"hi":0.4},
      {"d":"2022-09-29","ma":223,"vm":78000,"r":36,"a":19,"p":13,"m":24.5,"c":-7.5,"s":-6.2,"hi":-1.3},
      {"d":"2022-10-06","ma":222,"vm":75000,"r":37,"a":17.7,"p":12,"m":24.3,"c":-7,"s":-6.8,"hi":-0.2},
      {"d":"2022-10-13","ma":220,"vm":72000,"r":55,"a":19.5,"p":22,"m":21.5,"c":-1.5,"s":-5,"hi":3.5},
      {"d":"2022-10-20","ma":219,"vm":70000,"r":65,"a":21,"p":32,"m":16.5,"c":3.5,"s":-1.5,"hi":5},
      {"d":"2022-10-27","ma":219,"vm":66000,"r":70,"a":25,"p":32,"m":13,"c":6.5,"s":2.5,"hi":4},
      {"d":"2022-10-31","ma":218.5,"vm":64317,"r":74.38,"a":28.62,"p":34.79,"m":10.84,"c":9.37,"s":4.91,"hi":4.46}
    ],
    "levels": [
      {"v":310.2,"k":"r"},
      {"v":258.6,"k":"r"},
      {"v":186.5,"k":"s"}
    ]
  },
  "vconcat": [
    {
      "width": 788, "height": 43.5,
      "view": {"stroke": null},
      "data": {"values": [{}]},
      "layer": [
        {"mark": {"type": "rule", "color": "#8f1540", "strokeWidth": 1.5},
         "encoding": {"y": {"datum": 0, "type": "quantitative", "scale": {"domain": [0, 43.5], "nice": false, "zero": false}, "axis": null}}},
        {"mark": {"type": "text", "text": "Sygnały analizy technicznej – wykresy", "align": "left", "baseline": "alphabetic", "dx": -5, "font": "Liberation Sans", "fontSize": 19, "fontWeight": "bold", "color": "#8f1540"},
         "encoding": {"x": {"datum": 0, "type": "quantitative", "scale": {"domain": [0, 788], "nice": false, "zero": false}, "axis": null},
                      "y": {"datum": 20.8, "type": "quantitative"}}}
      ]
    },
    {
      "columns": 2,
      "spacing": {"row": 0, "column": 46},
      "bounds": "flush",
      "resolve": {"scale": {"color": "independent"}},
      "concat": [
        {
          "width": 349, "height": 156.7,
          "layer": [
            {"data": {"name": "asb"}, "mark": {"type": "line", "color": "#b8b8b8", "strokeWidth": 1},
             "encoding": {
               "x": {"field": "d", "type": "temporal", "scale": {"type": "utc", "domain": [{"year":2021,"month":3,"date":1,"utc":true},{"year":2022,"month":11,"date":17,"utc":true}]},
                     "axis": {"orient": "bottom", "offset": -10.7, "domain": true, "domainColor": "#707070", "domainWidth": 1, "labelOverlap": false, "tickCount": 30,
                              "values": [{"year":2021,"month":4,"date":1,"utc":true},{"year":2021,"month":7,"date":1,"utc":true},{"year":2021,"month":10,"date":1,"utc":true},{"year":2022,"month":1,"date":1,"utc":true},{"year":2022,"month":4,"date":1,"utc":true},{"year":2022,"month":7,"date":1,"utc":true},{"year":2022,"month":10,"date":1,"utc":true}],
                              "labelExpr": "utcmonth(datum.value) == 0 ? utcFormat(datum.value, '%Y') : utcFormat(datum.value, '%b')",
                              "labelAlign": "left", "labelBaseline": "top", "labelPadding": -2, "labelOffset": 1.5, "tickSize": 3,
                              "labelFontWeight": {"condition": {"test": "utcmonth(datum.value) == 0", "value": "bold"}, "value": "normal"}}},
               "y": {"field": "ma", "type": "quantitative", "scale": {"domain": [6.71, 28.19], "nice": false, "zero": false},
                     "axis": {"orient": "right", "values": [10, 15, 20, 25], "tickCount": 30, "labelAlign": "right", "labelPadding": 31, "labelOverlap": false}}
             }},
            {"data": {"name": "asb"}, "mark": {"type": "rule", "color": "#000", "strokeWidth": 3},
             "encoding": {"x": {"field": "d", "type": "temporal"}, "y": {"field": "l", "type": "quantitative"}, "y2": {"field": "h"}}},
            {"data": {"name": "trendL"}, "mark": {"type": "line", "color": "#4848b0", "strokeWidth": 1},
             "encoding": {"x": {"field": "d", "type": "temporal"}, "y": {"field": "t", "type": "quantitative"}}},
            {"data": {"values": [{}]}, "mark": {"type": "text", "text": "28.1", "align": "left", "baseline": "top", "dx": 2, "dy": 0, "color": "#4848b0"},
             "encoding": {"x": {"datum": {"year":2021,"month":3,"date":1,"utc":true}, "type": "temporal"}, "y": {"datum": 28.1, "type": "quantitative"}}},
            {"data": {"values": [{}]}, "mark": {"type": "text", "text": "ASB - Daily 2022-10-31 Open 20, Hi 21.58, Lo 20, Close 21.58 (8.5%) Vol 281,154", "align": "left", "baseline": "bottom", "dx": 2, "dy": -1, "color": "#222"},
             "encoding": {"x": {"datum": {"year":2021,"month":3,"date":1,"utc":true}, "type": "temporal"}, "y": {"datum": 28.19, "type": "quantitative"}}},
            {"data": {"values": [{}]}, "mark": {"type": "text", "text": "MA(Close,55", "align": "left", "baseline": "bottom", "dx": 291.2, "dy": -1, "color": "#b0b0b0"},
             "encoding": {"x": {"datum": {"year":2021,"month":3,"date":1,"utc":true}, "type": "temporal"}, "y": {"datum": 28.19, "type": "quantitative"}}}
          ]
        },
        {
          "width": 349, "height": 156.7,
          "layer": [
            {"data": {"name": "spli"}, "mark": {"type": "line", "color": "#b8b8b8", "strokeWidth": 1},
             "encoding": {
               "x": {"field": "d", "type": "temporal", "scale": {"type": "utc", "domain": [{"year":2021,"month":10,"date":28,"utc":true},{"year":2022,"month":11,"date":15,"utc":true}]},
                     "axis": {"orient": "bottom", "offset": -10.7, "domain": true, "domainColor": "#707070", "domainWidth": 1, "labelOverlap": false, "tickCount": 30,
                              "values": [{"year":2022,"month":1,"date":1,"utc":true},{"year":2022,"month":4,"date":1,"utc":true},{"year":2022,"month":7,"date":1,"utc":true},{"year":2022,"month":10,"date":1,"utc":true}],
                              "labelExpr": "utcmonth(datum.value) == 0 ? utcFormat(datum.value, '%Y') : utcFormat(datum.value, '%b')",
                              "labelAlign": "left", "labelBaseline": "top", "labelPadding": -2, "labelOffset": 1.5, "tickSize": 3,
                              "labelFontWeight": {"condition": {"test": "utcmonth(datum.value) == 0", "value": "bold"}, "value": "normal"}}},
               "y": {"field": "ma", "type": "quantitative", "scale": {"domain": [157.9, 385.3], "nice": false, "zero": false},
                     "axis": {"orient": "right", "values": [200, 250, 300, 350], "tickCount": 30, "labelAlign": "right", "labelPadding": 31, "labelOverlap": false}}
             }},
            {"data": {"name": "levels"}, "mark": {"type": "rule", "strokeWidth": 1},
             "encoding": {"y": {"field": "v", "type": "quantitative"},
                          "color": {"field": "k", "type": "nominal", "scale": {"domain": ["r", "s"], "range": ["#333333", "#66c266"]}, "legend": null}}},
            {"data": {"name": "levels"}, "mark": {"type": "text", "align": "left", "baseline": "top", "dx": 2, "dy": 2},
             "encoding": {"x": {"datum": {"year":2021,"month":10,"date":28,"utc":true}, "type": "temporal"},
                          "y": {"field": "v", "type": "quantitative"},
                          "text": {"field": "v", "type": "quantitative", "format": ".1f"},
                          "color": {"field": "k", "type": "nominal", "legend": null}}},
            {"data": {"name": "splp"}, "mark": {"type": "rule", "color": "#000", "strokeWidth": 2.2},
             "encoding": {"x": {"field": "d", "type": "temporal"}, "y": {"field": "l", "type": "quantitative"}, "y2": {"field": "h"}}},
            {"data": {"values": [{}]}, "mark": {"type": "text", "text": "SPL - Daily 2022-10-31 Open 242.2, Hi 254.2, Lo 242.2, Close 254.2 (5.5%) Vol 81,344", "align": "left", "baseline": "bottom", "dx": 2, "dy": -1, "color": "#222"},
             "encoding": {"x": {"datum": {"year":2021,"month":10,"date":28,"utc":true}, "type": "temporal"}, "y": {"datum": 385.3, "type": "quantitative"}}},
            {"data": {"values": [{}]}, "mark": {"type": "text", "text": "MA(Clos", "align": "left", "baseline": "bottom", "dx": 307.6, "dy": -1, "color": "#b0b0b0"},
             "encoding": {"x": {"datum": {"year":2021,"month":10,"date":28,"utc":true}, "type": "temporal"}, "y": {"datum": 385.3, "type": "quantitative"}}}
          ]
        },
        {
          "width": 349, "height": 51,
          "layer": [
            {"data": {"name": "asb"}, "mark": {"type": "bar", "size": 2.6},
             "encoding": {
               "x": {"field": "d", "type": "temporal", "scale": {"type": "utc", "domain": [{"year":2021,"month":3,"date":1,"utc":true},{"year":2022,"month":11,"date":17,"utc":true}]}, "axis": null},
               "y": {"field": "v", "type": "quantitative", "stack": null, "scale": {"domain": [-138000, 2477000], "nice": false, "zero": false},
                     "axis": {"orient": "right", "values": [0, 500000, 1000000, 1500000, 2000000], "tickCount": 30, "labelAlign": "right", "labelPadding": 31, "labelOverlap": false,
                              "labelExpr": "datum.value == 500000 ? '500,000' : datum.value == 0 ? '' : format(datum.value / 1000000, '~g') + 'M'"}},
               "color": {"field": "u", "type": "nominal", "scale": {"domain": ["u", "d"], "range": ["#3fa34d", "#e0393e"]}, "legend": null}
             }},
            {"data": {"name": "asb"}, "mark": {"type": "line", "color": "#a8a8a8", "strokeWidth": 1},
             "encoding": {"x": {"field": "d", "type": "temporal"}, "y": {"field": "vm", "type": "quantitative"}}},
            {"data": {"values": [{}]}, "mark": {"type": "text", "text": "ASB -", "align": "left", "baseline": "top", "dx": 2, "dy": 1, "color": "#222"},
             "encoding": {"x": {"datum": {"year":2021,"month":3,"date":1,"utc":true}, "type": "temporal"}, "y": {"datum": 2477000, "type": "quantitative"}}},
            {"data": {"values": [{}]}, "mark": {"type": "text", "text": "Volume", "align": "left", "baseline": "top", "dx": 23.0, "dy": 1, "color": "#2f9a2f"},
             "encoding": {"x": {"datum": {"year":2021,"month":3,"date":1,"utc":true}, "type": "temporal"}, "y": {"datum": 2477000, "type": "quantitative"}}},
            {"data": {"values": [{}]}, "mark": {"type": "text", "text": "= 281,154.00,", "align": "left", "baseline": "top", "dx": 51.8, "dy": 1, "color": "#222"},
             "encoding": {"x": {"datum": {"year":2021,"month":3,"date":1,"utc":true}, "type": "temporal"}, "y": {"datum": 2477000, "type": "quantitative"}}},
            {"data": {"values": [{}]}, "mark": {"type": "text", "text": "MA30", "align": "left", "baseline": "top", "dx": 104.4, "dy": 1, "color": "#a8a8a8"},
             "encoding": {"x": {"datum": {"year":2021,"month":3,"date":1,"utc":true}, "type": "temporal"}, "y": {"datum": 2477000, "type": "quantitative"}}},
            {"data": {"values": [{}]}, "mark": {"type": "text", "text": "= 132,464.44", "align": "left", "baseline": "top", "dx": 126.3, "dy": 1, "color": "#222"},
             "encoding": {"x": {"datum": {"year":2021,"month":3,"date":1,"utc":true}, "type": "temporal"}, "y": {"datum": 2477000, "type": "quantitative"}}}
          ]
        },
        {
          "width": 349, "height": 51,
          "layer": [
            {"data": {"name": "splp"}, "mark": {"type": "bar", "size": 2.2},
             "encoding": {
               "x": {"field": "d", "type": "temporal", "scale": {"type": "utc", "domain": [{"year":2021,"month":10,"date":28,"utc":true},{"year":2022,"month":11,"date":15,"utc":true}]}, "axis": null},
               "y": {"field": "v", "type": "quantitative", "stack": null, "scale": {"domain": [-26000, 550000], "nice": false, "zero": false},
                     "axis": {"orient": "right", "values": [0, 200000, 400000], "tickCount": 30, "labelAlign": "right", "labelPadding": 31, "labelOverlap": false,
                              "labelExpr": "datum.value == 0 ? '' : format(datum.value, ',')"}},
               "color": {"field": "u", "type": "nominal", "scale": {"domain": ["u", "d"], "range": ["#3fa34d", "#e0393e"]}, "legend": null}
             }},
            {"data": {"name": "spli"}, "mark": {"type": "line", "color": "#a8a8a8", "strokeWidth": 1},
             "encoding": {"x": {"field": "d", "type": "temporal"}, "y": {"field": "vm", "type": "quantitative"}}},
            {"data": {"values": [{}]}, "mark": {"type": "text", "text": "SPL -", "align": "left", "baseline": "top", "dx": 2, "dy": 1, "color": "#222"},
             "encoding": {"x": {"datum": {"year":2021,"month":10,"date":28,"utc":true}, "type": "temporal"}, "y": {"datum": 550000, "type": "quantitative"}}},
            {"data": {"values": [{}]}, "mark": {"type": "text", "text": "Volume", "align": "left", "baseline": "top", "dx": 21.5, "dy": 1, "color": "#2f9a2f"},
             "encoding": {"x": {"datum": {"year":2021,"month":10,"date":28,"utc":true}, "type": "temporal"}, "y": {"datum": 550000, "type": "quantitative"}}},
            {"data": {"values": [{}]}, "mark": {"type": "text", "text": "= 81,344.00,", "align": "left", "baseline": "top", "dx": 50.3, "dy": 1, "color": "#222"},
             "encoding": {"x": {"datum": {"year":2021,"month":10,"date":28,"utc":true}, "type": "temporal"}, "y": {"datum": 550000, "type": "quantitative"}}},
            {"data": {"values": [{}]}, "mark": {"type": "text", "text": "MA30", "align": "left", "baseline": "top", "dx": 98.5, "dy": 1, "color": "#a8a8a8"},
             "encoding": {"x": {"datum": {"year":2021,"month":10,"date":28,"utc":true}, "type": "temporal"}, "y": {"datum": 550000, "type": "quantitative"}}},
            {"data": {"values": [{}]}, "mark": {"type": "text", "text": "= 64,317.17", "align": "left", "baseline": "top", "dx": 120.4, "dy": 1, "color": "#222"},
             "encoding": {"x": {"datum": {"year":2021,"month":10,"date":28,"utc":true}, "type": "temporal"}, "y": {"datum": 550000, "type": "quantitative"}}}
          ]
        },
        {
          "width": 349, "height": 54,
          "layer": [
            {"data": {"name": "asb"}, "mark": {"type": "line", "color": "#111", "strokeWidth": 0.9},
             "encoding": {
               "x": {"field": "d", "type": "temporal", "scale": {"type": "utc", "domain": [{"year":2021,"month":3,"date":1,"utc":true},{"year":2022,"month":11,"date":17,"utc":true}]}, "axis": null},
               "y": {"field": "r", "type": "quantitative", "scale": {"domain": [17.2, 91.9], "nice": false, "zero": false},
                     "axis": {"orient": "right", "values": [30, 70], "tickCount": 30, "labelAlign": "right", "labelPadding": 31, "labelOverlap": false}}
             }},
            {"data": {"values": [{}]}, "mark": {"type": "text", "text": "ASB - RSI(15) = 84.06", "align": "left", "baseline": "top", "dx": 2, "dy": 1, "color": "#222"},
             "encoding": {"x": {"datum": {"year":2021,"month":3,"date":1,"utc":true}, "type": "temporal"}, "y": {"datum": 91.9, "type": "quantitative"}}}
          ]
        },
        {
          "width": 349, "height": 54,
          "layer": [
            {"data": {"name": "spli"}, "mark": {"type": "line", "color": "#111", "strokeWidth": 0.9},
             "encoding": {
               "x": {"field": "d", "type": "temporal", "scale": {"type": "utc", "domain": [{"year":2021,"month":10,"date":28,"utc":true},{"year":2022,"month":11,"date":15,"utc":true}]}, "axis": null},
               "y": {"field": "r", "type": "quantitative", "scale": {"domain": [17, 83.6], "nice": false, "zero": false},
                     "axis": {"orient": "right", "values": [30, 70], "tickCount": 30, "labelAlign": "right", "labelPadding": 31, "labelOverlap": false}}
             }},
            {"data": {"values": [{}]}, "mark": {"type": "text", "text": "SPL - RSI(15) = 74.38", "align": "left", "baseline": "top", "dx": 2, "dy": 1, "color": "#222"},
             "encoding": {"x": {"datum": {"year":2021,"month":10,"date":28,"utc":true}, "type": "temporal"}, "y": {"datum": 83.6, "type": "quantitative"}}}
          ]
        },
        {
          "width": 349, "height": 53,
          "layer": [
            {"data": {"name": "asb"}, "mark": {"type": "line", "color": "#2f9a2f", "strokeWidth": 0.9},
             "encoding": {
               "x": {"field": "d", "type": "temporal", "scale": {"type": "utc", "domain": [{"year":2021,"month":3,"date":1,"utc":true},{"year":2022,"month":11,"date":17,"utc":true}]}, "axis": null},
               "y": {"field": "p", "type": "quantitative", "scale": {"domain": [-2.7, 64.8], "nice": false, "zero": false},
                     "axis": {"orient": "right", "values": [20, 40], "tickCount": 30, "labelAlign": "right", "labelPadding": 31, "labelOverlap": false}}
             }},
            {"data": {"name": "asb"}, "mark": {"type": "line", "color": "#e8383c", "strokeWidth": 0.9},
             "encoding": {"x": {"field": "d", "type": "temporal"}, "y": {"field": "m", "type": "quantitative"}}},
            {"data": {"name": "asb"}, "mark": {"type": "line", "color": "#222", "strokeWidth": 0.9},
             "encoding": {"x": {"field": "d", "type": "temporal"}, "y": {"field": "a", "type": "quantitative"}}},
            {"data": {"values": [{}]}, "mark": {"type": "text", "text": "ASB - ADX(14) = 39.71,", "align": "left", "baseline": "top", "dx": 2, "dy": 1, "color": "#222"},
             "encoding": {"x": {"datum": {"year":2021,"month":3,"date":1,"utc":true}, "type": "temporal"}, "y": {"datum": 64.8, "type": "quantitative"}}},
            {"data": {"values": [{}]}, "mark": {"type": "text", "text": "+DI", "align": "left", "baseline": "top", "dx": 87.2, "dy": 1, "color": "#2f9a2f"},
             "encoding": {"x": {"datum": {"year":2021,"month":3,"date":1,"utc":true}, "type": "temporal"}, "y": {"datum": 64.8, "type": "quantitative"}}},
            {"data": {"values": [{}]}, "mark": {"type": "text", "text": "= 44.66,", "align": "left", "baseline": "top", "dx": 102.7, "dy": 1, "color": "#222"},
             "encoding": {"x": {"datum": {"year":2021,"month":3,"date":1,"utc":true}, "type": "temporal"}, "y": {"datum": 64.8, "type": "quantitative"}}},
            {"data": {"values": [{}]}, "mark": {"type": "text", "text": "-DI", "align": "left", "baseline": "top", "dx": 137.4, "dy": 1, "color": "#e8383c"},
             "encoding": {"x": {"datum": {"year":2021,"month":3,"date":1,"utc":true}, "type": "temporal"}, "y": {"datum": 64.8, "type": "quantitative"}}},
            {"data": {"values": [{}]}, "mark": {"type": "text", "text": "= 8.62", "align": "left", "baseline": "top", "dx": 149.6, "dy": 1, "color": "#222"},
             "encoding": {"x": {"datum": {"year":2021,"month":3,"date":1,"utc":true}, "type": "temporal"}, "y": {"datum": 64.8, "type": "quantitative"}}}
          ]
        },
        {
          "width": 349, "height": 53,
          "layer": [
            {"data": {"name": "spli"}, "mark": {"type": "line", "color": "#2f9a2f", "strokeWidth": 0.9},
             "encoding": {
               "x": {"field": "d", "type": "temporal", "scale": {"type": "utc", "domain": [{"year":2021,"month":10,"date":28,"utc":true},{"year":2022,"month":11,"date":15,"utc":true}]}, "axis": null},
               "y": {"field": "p", "type": "quantitative", "scale": {"domain": [2.6, 55.2], "nice": false, "zero": false},
                     "axis": {"orient": "right", "values": [10, 20, 30, 40, 50], "tickCount": 30, "labelAlign": "right", "labelPadding": 31, "labelOverlap": false}}
             }},
            {"data": {"name": "spli"}, "mark": {"type": "line", "color": "#e8383c", "strokeWidth": 0.9},
             "encoding": {"x": {"field": "d", "type": "temporal"}, "y": {"field": "m", "type": "quantitative"}}},
            {"data": {"name": "spli"}, "mark": {"type": "line", "color": "#222", "strokeWidth": 0.9},
             "encoding": {"x": {"field": "d", "type": "temporal"}, "y": {"field": "a", "type": "quantitative"}}},
            {"data": {"values": [{}]}, "mark": {"type": "text", "text": "SPL - ADX(14) = 28.62,", "align": "left", "baseline": "top", "dx": 2, "dy": 1, "color": "#222"},
             "encoding": {"x": {"datum": {"year":2021,"month":10,"date":28,"utc":true}, "type": "temporal"}, "y": {"datum": 55.2, "type": "quantitative"}}},
            {"data": {"values": [{}]}, "mark": {"type": "text", "text": "+DI", "align": "left", "baseline": "top", "dx": 85.7, "dy": 1, "color": "#2f9a2f"},
             "encoding": {"x": {"datum": {"year":2021,"month":10,"date":28,"utc":true}, "type": "temporal"}, "y": {"datum": 55.2, "type": "quantitative"}}},
            {"data": {"values": [{}]}, "mark": {"type": "text", "text": "= 34.79,", "align": "left", "baseline": "top", "dx": 101.2, "dy": 1, "color": "#222"},
             "encoding": {"x": {"datum": {"year":2021,"month":10,"date":28,"utc":true}, "type": "temporal"}, "y": {"datum": 55.2, "type": "quantitative"}}},
            {"data": {"values": [{}]}, "mark": {"type": "text", "text": "-DI", "align": "left", "baseline": "top", "dx": 135.9, "dy": 1, "color": "#e8383c"},
             "encoding": {"x": {"datum": {"year":2021,"month":10,"date":28,"utc":true}, "type": "temporal"}, "y": {"datum": 55.2, "type": "quantitative"}}},
            {"data": {"values": [{}]}, "mark": {"type": "text", "text": "= 10.84", "align": "left", "baseline": "top", "dx": 148.1, "dy": 1, "color": "#222"},
             "encoding": {"x": {"datum": {"year":2021,"month":10,"date":28,"utc":true}, "type": "temporal"}, "y": {"datum": 55.2, "type": "quantitative"}}}
          ]
        },
        {
          "width": 349, "height": 57,
          "title": {"text": "Created with AmiBroker - advanced charting and technical analysis software. http://www.amibroker.com", "orient": "bottom", "anchor": "start", "frame": "group", "fontSize": 6.2, "fontWeight": "normal", "color": "#333", "offset": 1.5, "baseline": "top", "dx": 1},
          "layer": [
            {"data": {"name": "asb"}, "mark": {"type": "bar", "size": 2, "color": "#333"},
             "encoding": {
               "x": {"field": "d", "type": "temporal", "scale": {"type": "utc", "domain": [{"year":2021,"month":3,"date":1,"utc":true},{"year":2022,"month":11,"date":17,"utc":true}]}, "axis": null},
               "y": {"field": "hi", "type": "quantitative", "stack": null, "scale": {"domain": [-2.77, 2.98], "nice": false, "zero": false},
                     "axis": {"orient": "right", "values": [-2, -1, 0, 1, 2], "tickCount": 30, "labelAlign": "right", "labelPadding": 31, "labelOverlap": false,
                              "labelExpr": "datum.value < 0 ? '-' + format(-datum.value, 'd') : format(datum.value, 'd')"}}
             }},
            {"data": {"name": "asb"}, "mark": {"type": "line", "color": "#3838e0", "strokeWidth": 1},
             "encoding": {"x": {"field": "d", "type": "temporal"}, "y": {"field": "s", "type": "quantitative"}}},
            {"data": {"name": "asb"}, "mark": {"type": "line", "color": "#ee3a3a", "strokeWidth": 1},
             "encoding": {"x": {"field": "d", "type": "temporal"}, "y": {"field": "c", "type": "quantitative"}}},
            {"data": {"values": [{}]}, "mark": {"type": "text", "text": "ASB -", "align": "left", "baseline": "top", "dx": 2, "dy": 1, "color": "#222"},
             "encoding": {"x": {"datum": {"year":2021,"month":3,"date":1,"utc":true}, "type": "temporal"}, "y": {"datum": 2.98, "type": "quantitative"}}},
            {"data": {"values": [{}]}, "mark": {"type": "text", "text": "MACD(12,26)", "align": "left", "baseline": "top", "dx": 23.0, "dy": 1, "color": "#ee3a3a"},
             "encoding": {"x": {"datum": {"year":2021,"month":3,"date":1,"utc":true}, "type": "temporal"}, "y": {"datum": 2.98, "type": "quantitative"}}},
            {"data": {"values": [{}]}, "mark": {"type": "text", "text": "= 1.42,", "align": "left", "baseline": "top", "dx": 71.8, "dy": 1, "color": "#222"},
             "encoding": {"x": {"datum": {"year":2021,"month":3,"date":1,"utc":true}, "type": "temporal"}, "y": {"datum": 2.98, "type": "quantitative"}}},
            {"data": {"values": [{}]}, "mark": {"type": "text", "text": "Signal(12,26,9)", "align": "left", "baseline": "top", "dx": 100.0, "dy": 1, "color": "#3838e0"},
             "encoding": {"x": {"datum": {"year":2021,"month":3,"date":1,"utc":true}, "type": "temporal"}, "y": {"datum": 2.98, "type": "quantitative"}}},
            {"data": {"values": [{}]}, "mark": {"type": "text", "text": "= 1.00", "align": "left", "baseline": "top", "dx": 155.9, "dy": 1, "color": "#222"},
             "encoding": {"x": {"datum": {"year":2021,"month":3,"date":1,"utc":true}, "type": "temporal"}, "y": {"datum": 2.98, "type": "quantitative"}}}
          ]
        },
        {
          "width": 349, "height": 57,
          "title": {"text": "Created with AmiBroker - advanced charting and technical analysis software. http://www.amibroker.com", "orient": "bottom", "anchor": "start", "frame": "group", "fontSize": 6.2, "fontWeight": "normal", "color": "#333", "offset": 1.5, "baseline": "top", "dx": 1},
          "layer": [
            {"data": {"name": "spli"}, "mark": {"type": "bar", "size": 3, "color": "#444"},
             "encoding": {
               "x": {"field": "d", "type": "temporal", "scale": {"type": "utc", "domain": [{"year":2021,"month":10,"date":28,"utc":true},{"year":2022,"month":11,"date":15,"utc":true}]}, "axis": null},
               "y": {"field": "hi", "type": "quantitative", "stack": null, "scale": {"domain": [-21.5, 20.9], "nice": false, "zero": false},
                     "axis": {"orient": "right", "values": [-20, -10, 0, 10], "tickCount": 30, "labelAlign": "right", "labelPadding": 31, "labelOverlap": false,
                              "labelExpr": "datum.value < 0 ? '-' + format(-datum.value, 'd') : format(datum.value, 'd')"}}
             }},
            {"data": {"name": "spli"}, "mark": {"type": "line", "color": "#3838e0", "strokeWidth": 1},
             "encoding": {"x": {"field": "d", "type": "temporal"}, "y": {"field": "s", "type": "quantitative"}}},
            {"data": {"name": "spli"}, "mark": {"type": "line", "color": "#ee3a3a", "strokeWidth": 1},
             "encoding": {"x": {"field": "d", "type": "temporal"}, "y": {"field": "c", "type": "quantitative"}}},
            {"data": {"values": [{}]}, "mark": {"type": "text", "text": "SPL -", "align": "left", "baseline": "top", "dx": 2, "dy": 1, "color": "#222"},
             "encoding": {"x": {"datum": {"year":2021,"month":10,"date":28,"utc":true}, "type": "temporal"}, "y": {"datum": 20.9, "type": "quantitative"}}},
            {"data": {"values": [{}]}, "mark": {"type": "text", "text": "MACD(12,26)", "align": "left", "baseline": "top", "dx": 21.5, "dy": 1, "color": "#ee3a3a"},
             "encoding": {"x": {"datum": {"year":2021,"month":10,"date":28,"utc":true}, "type": "temporal"}, "y": {"datum": 20.9, "type": "quantitative"}}},
            {"data": {"values": [{}]}, "mark": {"type": "text", "text": "= 9.37,", "align": "left", "baseline": "top", "dx": 70.3, "dy": 1, "color": "#222"},
             "encoding": {"x": {"datum": {"year":2021,"month":10,"date":28,"utc":true}, "type": "temporal"}, "y": {"datum": 20.9, "type": "quantitative"}}},
            {"data": {"values": [{}]}, "mark": {"type": "text", "text": "Signal(12,26,9)", "align": "left", "baseline": "top", "dx": 98.5, "dy": 1, "color": "#3838e0"},
             "encoding": {"x": {"datum": {"year":2021,"month":10,"date":28,"utc":true}, "type": "temporal"}, "y": {"datum": 20.9, "type": "quantitative"}}},
            {"data": {"values": [{}]}, "mark": {"type": "text", "text": "= 4.91", "align": "left", "baseline": "top", "dx": 154.4, "dy": 1, "color": "#222"},
             "encoding": {"x": {"datum": {"year":2021,"month":10,"date":28,"utc":true}, "type": "temporal"}, "y": {"datum": 20.9, "type": "quantitative"}}}
          ]
        }
      ]
    }
  ]
}
